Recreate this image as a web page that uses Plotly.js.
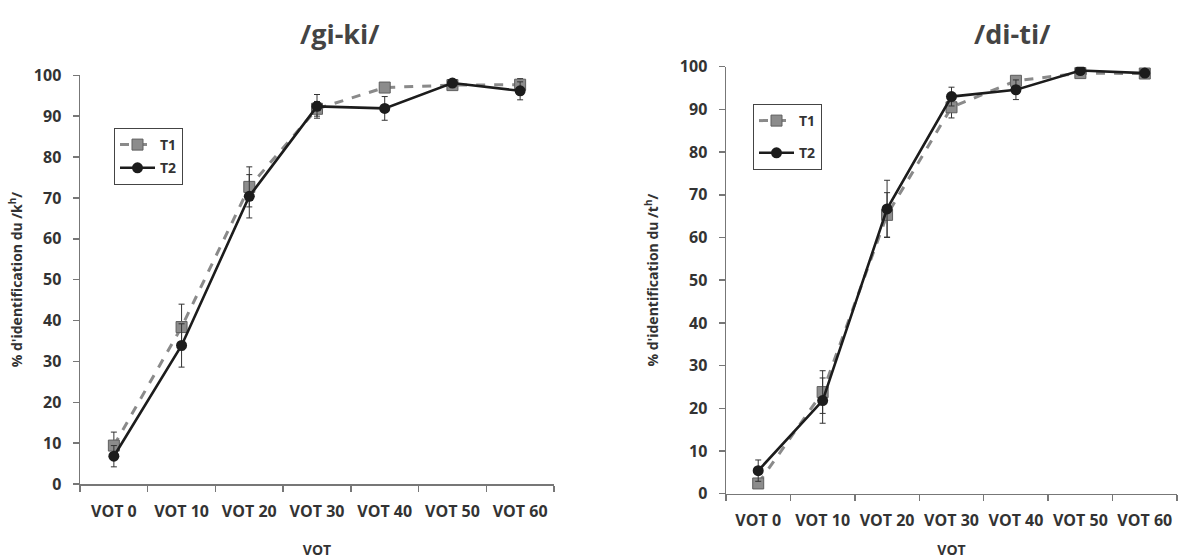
<!DOCTYPE html>
<html>
<head>
<meta charset="utf-8">
<script src="https://cdn.plot.ly/plotly-3.0.1.min.js"></script>
<style>html,body{margin:0;padding:0;background:#fff;}#chart{width:1178px;height:559px;}</style>
</head>
<body>
<div id="chart"></div>
<script>
const categories = ["VOT 0","VOT 10","VOT 20","VOT 30","VOT 40","VOT 50","VOT 60"];

// /gi-ki/  (% identification of /kʰ/)
const giki_T1 = [9.4, 38.4, 72.7, 91.8, 97.0, 97.6, 97.7];
const giki_T1_err = [3.3, 5.6, 4.9, 1.8, 1.2, 0.8, 1.5];
const giki_T2 = [6.8, 33.9, 70.4, 92.4, 91.9, 98.1, 96.2];
const giki_T2_err = [2.6, 5.3, 5.3, 2.9, 2.9, 0.8, 2.2];

// /di-ti/  (% identification of /tʰ/)
const diti_T1 = [2.4, 23.8, 65.3, 90.5, 96.7, 98.5, 98.4];
const diti_T1_err = [1.0, 5.0, 5.2, 2.5, 1.0, 0.5, 0.5];
const diti_T2 = [5.4, 21.8, 66.7, 93.0, 94.6, 99.1, 98.5];
const diti_T2_err = [2.5, 5.3, 6.7, 2.2, 2.3, 0.5, 0.5];

const FONT = "'Open Sans', 'Noto Sans', sans-serif";
const TXT = "#333333";
const T1col = "#8a8a8a", T2col = "#1c1c1c";

function t1(y, err, xa, ya, leg){
  return {x: categories, y: y, name: "T1", type: "scatter", mode: "lines+markers",
    xaxis: xa, yaxis: ya, legend: leg, legendgroup: "a",
    line: {color: T1col, width: 3, dash: "dash"},
    marker: {symbol: "square", size: 11, color: "#8c8c8c", line: {color: "#5e5e5e", width: 1}},
    error_y: {type: "data", array: err, visible: true, color: "#333", thickness: 1, width: 3}};
}
function t2(y, err, xa, ya, leg){
  return {x: categories, y: y, name: "T2", type: "scatter", mode: "lines+markers",
    xaxis: xa, yaxis: ya, legend: leg, legendgroup: "b",
    line: {color: T2col, width: 2.6},
    marker: {symbol: "circle", size: 11, color: T2col},
    error_y: {type: "data", array: err, visible: true, color: "#333", thickness: 1, width: 3}};
}

const data = [
  t1(giki_T1, giki_T1_err, "x", "y", "legend"),
  t2(giki_T2, giki_T2_err, "x", "y", "legend"),
  t1(diti_T1, diti_T1_err, "x2", "y2", "legend2"),
  t2(diti_T2, diti_T2_err, "x2", "y2", "legend2")
];

const W = 1178, H = 559;
function xax(l, r, standoff, lblStandoff){
  return {domain: [l/W, r/W], type: "category", range: [-0.5, 6.5], tickson: "boundaries",
    ticks: "outside", ticklen: 6, tickcolor: "#777", tickwidth: 1.5, tickangle: 0,
    showline: true, linecolor: "#777", linewidth: 1.5, showgrid: false, zeroline: false,
    ticklabelstandoff: lblStandoff, fixedrange: true,
    tickfont: {family: FONT, size: 16, color: TXT, weight: "bold"},
    title: {text: "<b>VOT</b>", standoff: standoff, font: {family: FONT, size: 14, color: TXT}}};
}
function yax(top, bot, anchor, title, standoff){
  return {domain: [1 - bot/H, 1 - top/H], anchor: anchor, range: [0, 100], dtick: 10,
    ticks: "outside", ticklen: 6, tickcolor: "#777", tickwidth: 1.5,
    showline: true, linecolor: "#777", linewidth: 1.5, showgrid: false, zeroline: false,
    ticklabelstandoff: 8, fixedrange: true,
    tickfont: {family: FONT, size: 16, color: TXT, weight: "bold"},
    title: {text: title, standoff: standoff, font: {family: FONT, size: 14, color: TXT}}};
}

const legStyle = (x, y, gap) => ({x: x/W, y: 1 - y/H, xanchor: "left", yanchor: "top",
  bgcolor: "#fff", bordercolor: "#444", borderwidth: 1, itemwidth: 35, tracegroupgap: gap,
  font: {family: FONT, size: 14, color: TXT, weight: "bold"}});

const layout = {
  width: W, height: H, margin: {l: 0, r: 0, t: 0, b: 0},
  paper_bgcolor: "#fff", plot_bgcolor: "#fff", showlegend: true,
  font: {family: FONT, color: TXT},
  xaxis: Object.assign(xax(80, 554, 26, 12), {anchor: "y"}),
  yaxis: yax(75.3, 484, "x", "<b>% d'identification du /k<sup>h</sup>/</b>", 8),
  xaxis2: Object.assign(xax(726, 1177, 21, 12), {anchor: "y2"}),
  yaxis2: yax(66.7, 493.7, "x2", "<b>% d'identification du /t<sup>h</sup>/</b>", 18),
  legend: legStyle(114, 128, 2),
  legend2: legStyle(753, 104, 11),
  annotations: [
    {text: "<b>/gi-ki/</b>", xref: "paper", yref: "paper", x: 340/W, y: 1 - 33/H,
     xanchor: "center", yanchor: "middle", showarrow: false, font: {family: FONT, size: 27, color: "#444"}},
    {text: "<b>/di-ti/</b>", xref: "paper", yref: "paper", x: 1012/W, y: 1 - 33/H,
     xanchor: "center", yanchor: "middle", showarrow: false, font: {family: FONT, size: 27, color: "#444"}}
  ]
};

Plotly.newPlot("chart", data, layout, {displayModeBar: false, staticPlot: true});
</script>
</body>
</html>
